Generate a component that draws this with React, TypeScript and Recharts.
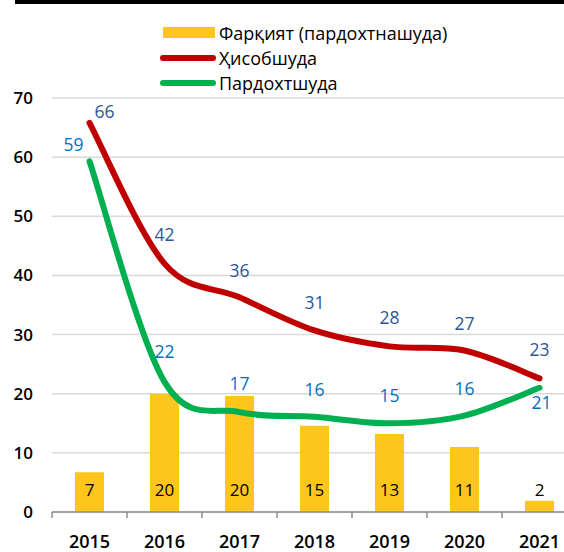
import React from 'react';
import { ComposedChart, Bar, Line, XAxis, YAxis, CartesianGrid, LabelList, Legend } from 'recharts';

const years = ['2015', '2016', '2017', '2018', '2019', '2020', '2021'];
const differenceValues = [6.7, 20.0, 19.6, 14.6, 13.2, 11.0, 1.9];
const accountedValues = [65.8, 42.0, 36.3, 30.7, 28.0, 27.3, 22.6];
const paidValues = [59.3, 22.0, 16.9, 16.1, 15.0, 16.3, 21.0];
const yTicks = [0, 10, 20, 30, 40, 50, 60, 70];

const seriesNames = {
  diff: 'Фарқият (пардохтнашуда)',
  acc: 'Ҳисобшуда',
  paid: 'Пардохтшуда',
};

const COLORS = {
  bar: '#FEC51C',
  red: '#C00000',
  green: '#00B050',
  redLabel: '#2F5597',
  greenLabel: '#0070C0',
  grid: '#D9D9D9',
  axis: '#8C8C8C',
};

const FONT = '"Open Sans", "Noto Sans", sans-serif';

const data = years.map((y, i) => ({
  year: y,
  diff: differenceValues[i],
  acc: accountedValues[i],
  paid: paidValues[i],
}));

// label offsets (style)
const redDx = [15, 0, 0, 0, 0, 0, 0];
const redDy = [-12, -30, -27, -28, -29, -28, -29];
const greenDx = [-16, 0, 0, 0, 0, 0, 2];
const greenDy = [-17, -31, -29, -28, -28, -28, 14];

const CHART_W = 600;
const CHART_H = 552;
const Y_W = 52;
const MARGIN = { top: 98, right: 23, bottom: 0, left: 0 };
const HALF_BAND = (CHART_W - Y_W - MARGIN.left - MARGIN.right) / years.length / 2;

// Excel-like smoothing (Catmull-Rom style Bezier)
function excelCurve(context: any) {
  let pts: number[][] = [];
  return {
    areaStart() {},
    areaEnd() {},
    lineStart() {
      pts = [];
    },
    point(x: number, y: number) {
      pts.push([+x, +y]);
    },
    lineEnd() {
      const n = pts.length;
      if (!n) return;
      context.moveTo(pts[0][0], pts[0][1]);
      for (let i = 0; i < n - 1; i++) {
        const p0 = pts[i - 1] || pts[i];
        const p1 = pts[i];
        const p2 = pts[i + 1];
        const p3 = pts[i + 2] || p2;
        context.bezierCurveTo(
          p1[0] + (p2[0] - p0[0]) / 6,
          p1[1] + (p2[1] - p0[1]) / 6,
          p2[0] - (p3[0] - p1[0]) / 6,
          p2[1] - (p3[1] - p1[1]) / 6,
          p2[0],
          p2[1]
        );
      }
    },
  };
}

const makeLineLabel = (dxs: number[], dys: number[], color: string) => (props: any) => {
  const { x, y, value, index } = props;
  return (
    <text
      x={x + dxs[index]}
      y={y + dys[index]}
      textAnchor="middle"
      dominantBaseline="central"
      fill={color}
      fontSize={17.5}
      fontFamily={FONT}
    >
      {Math.round(value)}
    </text>
  );
};

const BarLabel = (props: any) => {
  const { x, y, width, height, value } = props;
  return (
    <text
      x={x + width / 2}
      y={y + height - 23}
      textAnchor="middle"
      dominantBaseline="central"
      fill="#000"
      fontSize={17}
      fontWeight={500}
      fontFamily={FONT}
    >
      {Math.round(value)}
    </text>
  );
};

const XTick = (props: any) => {
  const { x, y, payload } = props;
  return (
    <g>
      <line x1={x - HALF_BAND} x2={x - HALF_BAND} y1={y} y2={y + 6} stroke={COLORS.axis} strokeWidth={1.5} />
      <text
        x={x}
        y={y + 29}
        textAnchor="middle"
        dominantBaseline="central"
        fill="#000"
        fontSize={18}
        fontWeight={600}
        fontFamily={FONT}
      >
        {payload.value}
      </text>
    </g>
  );
};

const legendItems = [
  { name: seriesNames.diff, color: COLORS.bar, kind: 'bar' },
  { name: seriesNames.acc, color: COLORS.red, kind: 'line' },
  { name: seriesNames.paid, color: COLORS.green, kind: 'line' },
];

const renderLegend = () => (
  <div style={{ fontFamily: FONT, fontSize: 18, color: '#000' }}>
    {legendItems.map((it) => (
      <div key={it.name} style={{ display: 'flex', alignItems: 'center', height: 25.3 }}>
        <div style={{ width: 59, display: 'flex', alignItems: 'center' }}>
          {it.kind === 'bar' ? (
            <div style={{ width: 52, height: 11, background: it.color, marginLeft: 3 }} />
          ) : (
            <div style={{ width: 56, height: 6, borderRadius: 3, background: it.color }} />
          )}
        </div>
        <span style={{ lineHeight: '20px', whiteSpace: 'nowrap' }}>{it.name}</span>
      </div>
    ))}
  </div>
);

export default function App() {
  return (
    <div
      style={{
        position: 'fixed',
        left: 0,
        top: 0,
        width: 564,
        height: 552,
        overflow: 'hidden',
        background: '#fff',
      }}
    >
      <div style={{ position: 'absolute', left: 15, right: 0, top: 0, height: 4, background: '#000' }} />
      <ComposedChart width={CHART_W} height={CHART_H} data={data} margin={MARGIN}>
        <CartesianGrid vertical={false} stroke={COLORS.grid} strokeWidth={1.5} />
        <XAxis
          dataKey="year"
          height={40}
          tickLine={false}
          tickSize={0}
          tickMargin={0}
          axisLine={{ stroke: COLORS.axis, strokeWidth: 1.5 }}
          tick={<XTick />}
          interval={0}
        />
        <YAxis
          width={Y_W}
          domain={[0, 70]}
          ticks={yTicks}
          axisLine={false}
          tickLine={false}
          tickSize={0}
          tickMargin={19}
          tick={{ fill: '#000', fontSize: 17, fontWeight: 600, fontFamily: FONT }}
        />
        <Legend
          layout="vertical"
          align="center"
          verticalAlign="middle"
          content={renderLegend}
          wrapperStyle={{ position: 'absolute', top: 20, left: 160, width: 340 }}
        />
        <Bar dataKey="diff" name={seriesNames.diff} fill={COLORS.bar} barSize={29} isAnimationActive={false}>
          <LabelList dataKey="diff" content={BarLabel} />
        </Bar>
        <Line
          dataKey="acc"
          name={seriesNames.acc}
          type={excelCurve as any}
          stroke={COLORS.red}
          strokeWidth={6}
          strokeLinecap="round"
          dot={false}
          activeDot={false}
          isAnimationActive={false}
        >
          <LabelList dataKey="acc" content={makeLineLabel(redDx, redDy, COLORS.redLabel)} />
        </Line>
        <Line
          dataKey="paid"
          name={seriesNames.paid}
          type={excelCurve as any}
          stroke={COLORS.green}
          strokeWidth={6}
          strokeLinecap="round"
          dot={false}
          activeDot={false}
          isAnimationActive={false}
        >
          <LabelList dataKey="paid" content={makeLineLabel(greenDx, greenDy, COLORS.greenLabel)} />
        </Line>
      </ComposedChart>
    </div>
  );
}
